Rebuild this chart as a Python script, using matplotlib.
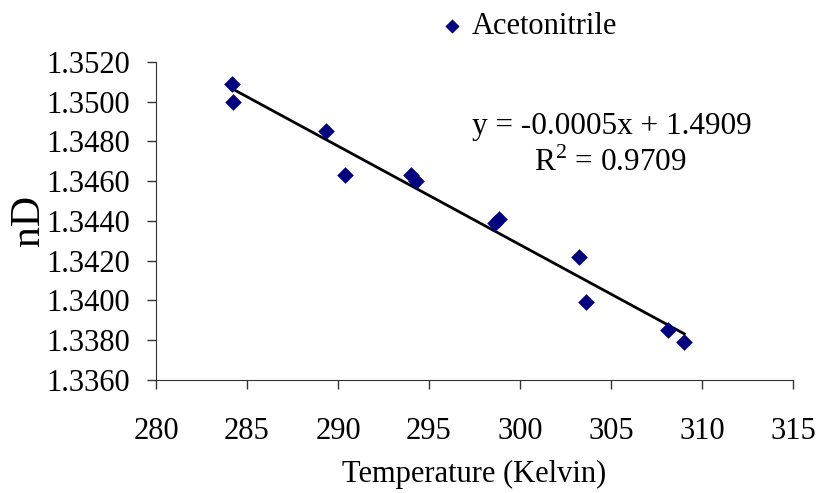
import numpy as np
import matplotlib.pyplot as plt

# Refractive index of acetonitrile vs temperature
temp_k = [284.16, 284.25, 289.34, 290.40, 293.99, 294.29, 298.63, 298.85,
          303.22, 303.61, 308.11, 309.03]
n_d = [1.3509, 1.3500, 1.3485, 1.3463, 1.3463, 1.3460, 1.3439, 1.3441,
       1.3422, 1.3399, 1.3385, 1.3379]
x_ticks = [280, 285, 290, 295, 300, 305, 310, 315]
y_ticks = [1.3360, 1.3380, 1.3400, 1.3420, 1.3440, 1.3460, 1.3480, 1.3500, 1.3520]

plt.rcParams['font.family'] = ['Liberation Serif', 'DejaVu Serif']
plt.rcParams['mathtext.fontset'] = 'custom'
plt.rcParams['mathtext.rm'] = 'Liberation Serif'

fig = plt.figure(figsize=(8.2, 4.93), dpi=100)
ax = fig.add_axes([0.1902, 0.2292, 0.7768, 0.6456])

ax.scatter(temp_k, n_d, marker='D', s=72, color='#000080', zorder=3,
           label='Acetonitrile', linewidths=0)

# linear trendline over the data range
slope, intercept = np.polyfit(temp_k, n_d, 1)
xs = np.array([min(temp_k), max(temp_k)])
ax.plot(xs, slope * xs + intercept, color='black', lw=2.0, zorder=2)

fig.text(0.746, 0.744, 'y = -0.0005x + 1.4909', ha='center', va='center', fontsize=22.5)
fig.text(0.744, 0.669, 'R$^\\mathregular{2}$ = 0.9709', ha='center', va='center', fontsize=22.5)

ax.set_xlim(280, 315)
ax.set_ylim(1.3360, 1.3520)
ax.set_xticks(x_ticks)
ax.set_yticks(y_ticks)
ax.set_yticklabels([f'{v:.4f}' for v in y_ticks])
ax.tick_params(labelsize=22, length=6.5, width=1, color='#333333', direction='out')
ax.tick_params(axis='x', pad=20)
ax.tick_params(axis='y', pad=12)

for side in ['top', 'right']:
    ax.spines[side].set_visible(False)
for side in ['left', 'bottom']:
    ax.spines[side].set_color('#333333')

ax.set_xlabel('Temperature (Kelvin)', fontsize=22)
ax.xaxis.set_label_coords(0.5, -0.25)
ax.set_ylabel('nD', fontsize=30)
ax.yaxis.set_label_coords(-0.17, 0.5)

ax.legend(loc='center left', bbox_to_anchor=(0.539, 0.947),
          bbox_transform=fig.transFigure, frameon=False, fontsize=22,
          borderpad=0, borderaxespad=0, handletextpad=0.33,
          handlelength=0.65, markerscale=0.85)

fig.savefig('out.png', dpi=100)
